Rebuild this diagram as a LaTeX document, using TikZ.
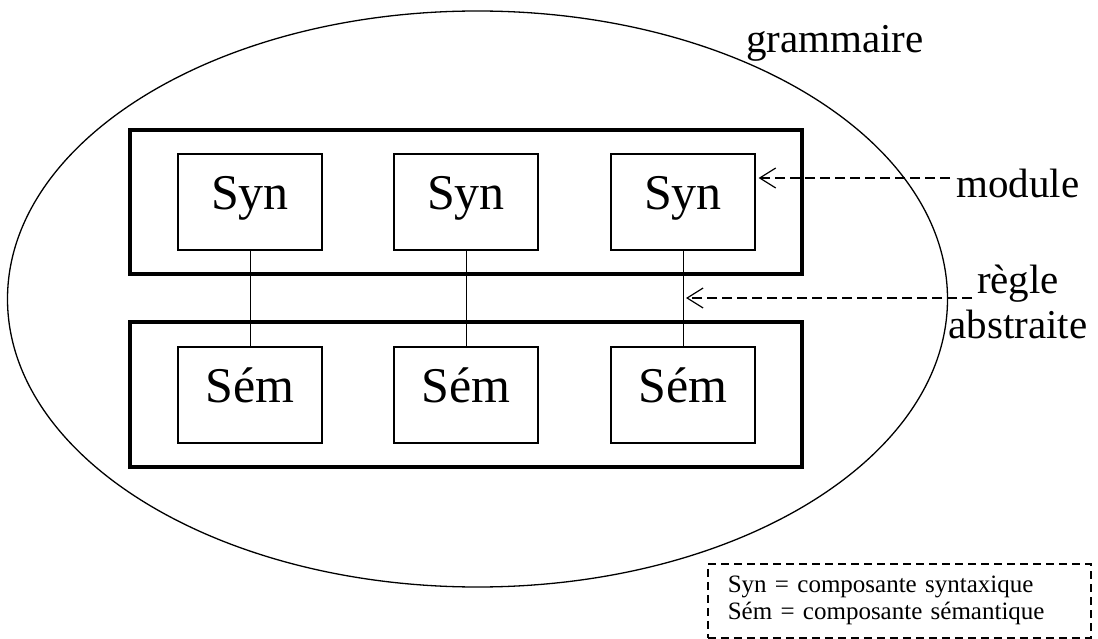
\documentclass[tikz,border=0pt]{standalone}
\usepackage{fontspec}
\setmainfont{Liberation Serif}
\usetikzlibrary{arrows.meta}

\begin{document}
\begin{tikzpicture}[x=1pt,y=-1pt,
    comp/.style={draw, line width=1.2pt, minimum width=144pt, minimum height=96pt,
        text height=34pt, text depth=19pt, font=\fontsize{50}{60}\selectfont},
    module/.style={draw, line width=4pt, minimum width=672pt, minimum height=144pt},
    lab/.style={font=\fontsize{41}{45}\selectfont, anchor=base},
    pointer/.style={dash pattern=on 10pt off 5pt, line width=1.2pt,
        -{Straight Barb[length=16pt,width=20pt]}}]
    \useasboundingbox (0,0) rectangle (1098,639);

    \draw[line width=1.3pt] (477.5,299) ellipse (470pt and 288pt);

    \node[module] (synrow) at (466,202) {};
    \node[module, minimum height=145pt] (semrow) at (466,394.5) {};

    \foreach \i/\x in {1/250,2/466,3/683} {
        \node[comp] (syn\i) at (\x,202) {Syn};
        \node[comp] (sem\i) at (\x,395) {Sém};
        \draw[line width=1pt] (syn\i) -- (sem\i);
    }

    \node[lab] (gram) at (835,53) {grammaire};
    \node[lab] (modlab) at (1018,198) {module};
    \node[lab] (regle) at (1018,293) {règle};
    \node[lab] (abstr) at (1018,338) {abstraite};

    \coordinate (modtail) at (950,178);
    \coordinate (regtail) at (972,298);
    \draw[pointer] (modtail) -- ([xshift=3pt]syn3.east |- modtail);
    \draw[pointer] (regtail) -- ([xshift=3pt]syn3.south |- regtail);

    \node[draw, dash pattern=on 8pt off 5pt, line width=1.5pt, anchor=north west,
        text width=343pt, inner xsep=20pt, minimum height=74pt, align=left,
        font=\fontsize{25}{27}\selectfont] (legend) at (707,563)
        {Syn = composante syntaxique\\Sém = composante sémantique};
\end{tikzpicture}
\end{document}
